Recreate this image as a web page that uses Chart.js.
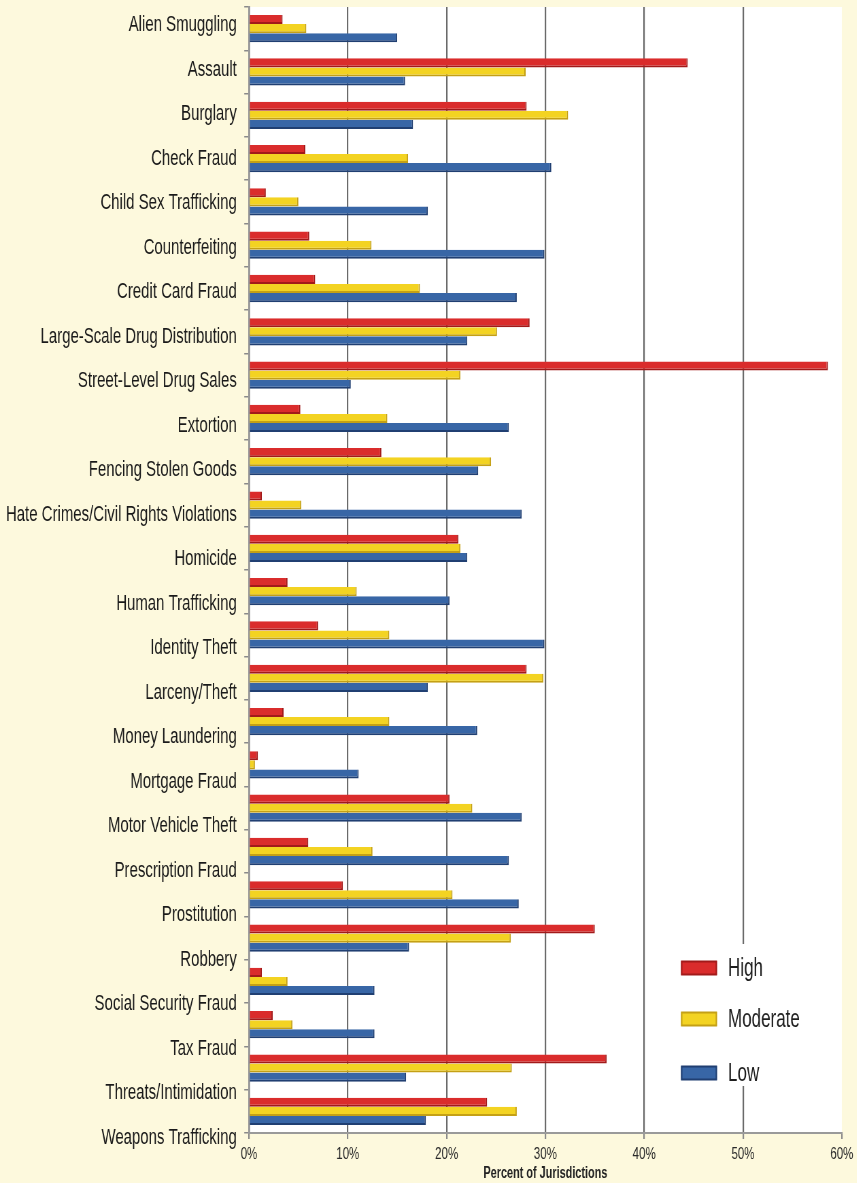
<!DOCTYPE html>
<html>
<head>
<meta charset="utf-8">
<script src="https://cdn.jsdelivr.net/npm/chart.js@4.4.1/dist/chart.umd.min.js"></script>
<style>
  html, body { margin: 0; padding: 0; background: #FDF9DD; overflow: hidden; }
  #wrap { width: 857px; height: 1183px; position: relative; overflow: hidden; }
  #c { position: absolute; left: 0; top: 0; transform-origin: 0 0; }
</style>
</head>
<body>
<div id="wrap"><canvas id="c"></canvas></div>
<script>
const categories = [
  "Alien Smuggling", "Assault", "Burglary", "Check Fraud", "Child Sex Trafficking",
  "Counterfeiting", "Credit Card Fraud", "Large-Scale Drug Distribution",
  "Street-Level Drug Sales", "Extortion", "Fencing Stolen Goods",
  "Hate Crimes/Civil Rights Violations", "Homicide", "Human Trafficking",
  "Identity Theft", "Larceny/Theft", "Money Laundering", "Mortgage Fraud",
  "Motor Vehicle Theft", "Prescription Fraud", "Prostitution", "Robbery",
  "Social Security Fraud", "Tax Fraud", "Threats/Intimidation", "Weapons Trafficking"
];
const high = [3.4, 44.4, 28.1, 5.7, 1.7, 6.1, 6.7, 28.4, 58.6, 5.2, 13.4, 1.3, 21.2,
  3.9, 7.0, 28.1, 3.5, 0.9, 20.3, 6.0, 9.5, 35.0, 1.3, 2.4, 36.2, 24.1];
const moderate = [5.8, 28.0, 32.3, 16.1, 5.0, 12.4, 17.3, 25.1, 21.4, 14.0, 24.5, 5.3, 21.4,
  10.9, 14.2, 29.8, 14.2, 0.6, 22.6, 12.5, 20.6, 26.5, 3.9, 4.4, 26.6, 27.1];
const low = [15.0, 15.8, 16.6, 30.6, 18.1, 29.9, 27.1, 22.1, 10.3, 26.3, 23.2, 27.6, 22.1,
  20.3, 29.9, 18.1, 23.1, 11.1, 27.6, 26.3, 27.3, 16.2, 12.7, 12.7, 15.9, 17.9];
const seriesNames = ["High", "Moderate", "Low"];
const xTickValues = [0, 10, 20, 30, 40, 50, 60];
const xTitle = "Percent of Jurisdictions";

// The reference is horizontally condensed; draw on a wider canvas and squeeze it.
const K = 0.68;
const W = Math.round(857 / K);
const H = 1183;
const canvas = document.getElementById('c');
canvas.width = W; canvas.height = H;
canvas.style.width = W + 'px'; canvas.style.height = H + 'px';
canvas.style.transform = 'scaleX(' + K + ')';

const FONT = "'Liberation Sans', Arial, sans-serif";
const X = (px) => px / K; // convert target x-pixels to canvas pixels

const bgPlugin = {
  id: 'bg',
  beforeDraw(chart) {
    const { ctx, chartArea: a } = chart;
    ctx.save();
    ctx.fillStyle = '#FDF9DD';
    ctx.fillRect(0, 0, chart.width, chart.height);
    ctx.fillStyle = '#FFFFFF';
    ctx.fillRect(a.left, a.top, a.right - a.left, a.bottom - a.top);
    ctx.restore();
  }
};

const legendPlugin = {
  id: 'innerLegend',
  afterDatasetsDraw(chart) {
    const { ctx, chartArea: a } = chart;
    ctx.save();
    ctx.fillStyle = '#FFFFFF';
    ctx.fillRect(X(668), 944, a.right - X(668) - 2, 142);
    const ys = [968, 1019, 1073];
    chart.data.datasets.forEach((ds, i) => {
      const y = ys[i];
      ctx.fillStyle = ds.backgroundColor;
      ctx.fillRect(X(681), y - 7, X(36), 14);
      ctx.strokeStyle = ds.borderColor;
      ctx.lineWidth = 2;
      ctx.strokeRect(X(681) + 1, y - 6.5, X(36) - 2, 13);
      ctx.fillStyle = '#1e1e1e';
      ctx.font = "25px " + FONT;
      ctx.textBaseline = 'middle';
      ctx.textAlign = 'left';
      ctx.fillText(ds.label, X(728), y + 1);
    });
    ctx.restore();
  }
};

const mkDs = (label, data, bg, border) => ({
  label, data,
  backgroundColor: bg,
  borderColor: border,
  borderWidth: { top: 0, bottom: 2, left: 0, right: 2 },
  borderSkipped: 'start',
  barPercentage: 1.0,
  categoryPercentage: 0.63,
  yAxisID: 'y'
});

const noPad = (s) => { s.paddingTop = 0; s.paddingBottom = 0; };
const LMIN = -0.4045, LMAX = 24.899;

new Chart(canvas, {
  type: 'bar',
  data: {
    labels: categories,
    datasets: [
      mkDs(seriesNames[0], high, '#DA2C2C', '#A21A1A'),
      mkDs(seriesNames[1], moderate, '#F3D322', '#C4A015'),
      mkDs(seriesNames[2], low, '#3866A6', '#203F72')
    ]
  },
  options: {
    indexAxis: 'y',
    responsive: false,
    maintainAspectRatio: false,
    animation: false,
    devicePixelRatio: 1,
    layout: { padding: { top: 7, right: X(15), left: 0, bottom: 0 } },
    plugins: { legend: { display: false }, tooltip: { enabled: false } },
    scales: {
      x: {
        type: 'linear',
        min: 0, max: 60,
        afterBuildTicks: (s) => { s.ticks = xTickValues.map(v => ({ value: v })); },
        afterFit: (s) => { s.height = 50; s.paddingLeft = 0; s.paddingRight = 0; },
        ticks: {
          callback: (v) => v + '%',
          font: { family: FONT, size: 17 },
          color: '#2a2a2a',
          padding: 5,
          maxRotation: 0
        },
        grid: {
          color: (c) => (c.tick && (c.tick.value === 0 || c.tick.value === 60)) ? 'rgba(0,0,0,0)' : '#6a6a6a',
          tickColor: '#8a8a8a',
          lineWidth: 2.2,
          tickLength: 6
        },
        border: { display: true, color: '#9a9a9a', width: 2 },
        title: {
          display: true,
          text: xTitle,
          font: { family: FONT, size: 16, weight: 'bold' },
          color: '#222',
          padding: { top: 0, bottom: 0 }
        }
      },
      y: {
        type: 'category',
        position: 'left',
        weight: 0,
        offset: true,
        afterFit: (s) => { s.width = 8; noPad(s); },
        ticks: { display: false },
        grid: {
          offset: true,
          drawOnChartArea: false,
          drawTicks: true,
          tickLength: 7,
          tickColor: '#8a8a8a',
          lineWidth: 1.5
        },
        border: { display: true, color: '#9a9a9a', width: 3 }
      },
      yl: {
        type: 'linear',
        position: 'left',
        weight: 1,
        reverse: true,
        offset: false,
        bounds: 'data',
        min: LMIN,
        max: LMAX,
        afterBuildTicks: (s) => {
          s.ticks = categories.map((c, i) => ({ value: i }));
          s.min = LMIN; s.max = LMAX;
        },
        afterFit: (s) => { s.width = X(249) - 8; noPad(s); },
        ticks: {
          autoSkip: false,
          callback: (v) => categories[v],
          font: { family: FONT, size: 22 },
          color: '#1a1a1a',
          padding: 10
        },
        grid: { display: false, drawTicks: false, drawOnChartArea: false, offset: false },
        border: { display: false }
      }
    }
  },
  plugins: [bgPlugin, legendPlugin]
});
</script>
</body>
</html>
